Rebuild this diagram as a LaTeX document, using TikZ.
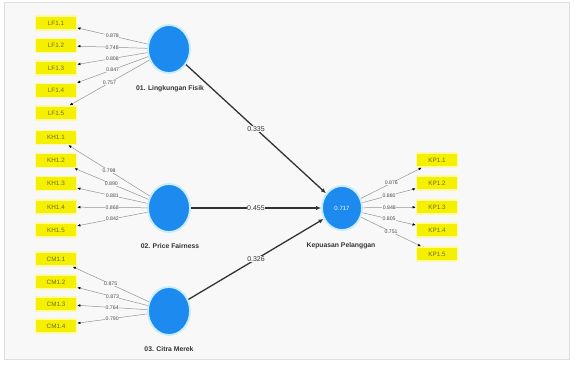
\documentclass[tikz,border=0pt]{standalone}
\usepackage{fontspec}
\setmainfont{Liberation Sans}
\usetikzlibrary{shapes.geometric,arrows.meta}

\definecolor{lvblue}{RGB}{28,138,238}
\definecolor{mvyellow}{RGB}{244,240,0}
\definecolor{panelbg}{RGB}{248,248,248}

\begin{document}
\begin{tikzpicture}[x=1pt,y=-1pt,
    latent/.style={ellipse, fill=lvblue, draw=cyan!22, line width=1.8pt, minimum width=42pt, minimum height=48pt, inner sep=0pt, text=white, font=\fontsize{6}{7}\selectfont},
    manifest/.style={rectangle, fill=mvyellow, draw=yellow!35, line width=1.4pt, minimum width=41pt, minimum height=14pt, inner sep=0pt, text=olive!70!black, font=\fontsize{6.3}{7}\selectfont},
    lvname/.style={font=\fontsize{6.8}{8}\selectfont\bfseries, text=black!80},
    outer/.style={-{Latex[length=3.2pt,width=2.6pt,color=black]}, draw=gray!85, line width=0.5pt},
    inner/.style={-{Latex[length=5pt,width=4.2pt]}, draw=black!80, line width=1.3pt},
    weight/.style={midway, fill=panelbg, inner sep=0.4pt, font=\fontsize{5.2}{6}\selectfont, text=black!70},
    pathcoef/.style={midway, fill=panelbg, inner sep=0.5pt, font=\fontsize{7}{8}\selectfont, text=black!80}]

  \useasboundingbox (0,0) rectangle (581,366);
  \fill[white] (0,0) rectangle (581,366);
  \draw[gray!25, fill=panelbg] (4,2) rectangle (569,359);

  % latent variables
  \node [latent] (lf) at (169,49) {};
  \node [latent] (pf) at (169,208) {};
  \node [latent] (cm) at (169,311) {};
  \node [latent, minimum width=40pt, minimum height=44pt] (kp) at (342,208) {0.717};

  \node [lvname] (lfname) at (170,89) {01. Lingkungan Fisik};
  \node [lvname] (pfname) at (170,246) {02. Price Fairness};
  \node [lvname] (cmname) at (169,349) {03. Citra Merek};
  \node [lvname] (kpname) at (341,246) {Kepuasan Pelanggan};

  % indicators
  \node [manifest] (lf1) at (56,23) {LF1.1};
  \node [manifest] (lf2) at (56,45.5) {LF1.2};
  \node [manifest] (lf3) at (56,68) {LF1.3};
  \node [manifest] (lf4) at (56,90.5) {LF1.4};
  \node [manifest] (lf5) at (56,113) {LF1.5};

  \node [manifest] (kh1) at (56,137.5) {KH1.1};
  \node [manifest] (kh2) at (56,160.5) {KH1.2};
  \node [manifest] (kh3) at (56,183.5) {KH1.3};
  \node [manifest] (kh4) at (56,207) {KH1.4};
  \node [manifest] (kh5) at (56,230) {KH1.5};

  \node [manifest] (cm1) at (56,259) {CM1.1};
  \node [manifest] (cm2) at (56,282) {CM1.2};
  \node [manifest] (cm3) at (56,304) {CM1.3};
  \node [manifest] (cm4) at (56,326) {CM1.4};

  \node [manifest] (kp1) at (437,160) {KP1.1};
  \node [manifest] (kp2) at (437,183) {KP1.2};
  \node [manifest] (kp3) at (437,207) {KP1.3};
  \node [manifest] (kp4) at (437,230) {KP1.4};
  \node [manifest] (kp5) at (437,254) {KP1.5};

  % outer loadings
  \draw [outer] (lf) -- (lf1) node [weight] {0.878};
  \draw [outer] (lf) -- (lf2) node [weight] {0.748};
  \draw [outer] (lf) -- (lf3) node [weight] {0.808};
  \draw [outer] (lf) -- (lf4) node [weight] {0.847};
  \draw [outer] (lf) -- (lf5) node [weight] {0.757};

  \draw [outer] (pf) -- (kh1) node [weight] {0.798};
  \draw [outer] (pf) -- (kh2) node [weight] {0.890};
  \draw [outer] (pf) -- (kh3) node [weight] {0.881};
  \draw [outer] (pf) -- (kh4) node [weight] {0.868};
  \draw [outer] (pf) -- (kh5) node [weight] {0.842};

  \draw [outer] (cm) -- (cm1) node [weight] {0.875};
  \draw [outer] (cm) -- (cm2) node [weight] {0.873};
  \draw [outer] (cm) -- (cm3) node [weight] {0.764};
  \draw [outer] (cm) -- (cm4) node [weight] {0.790};

  \draw [outer] (kp) -- (kp1) node [weight] {0.876};
  \draw [outer] (kp) -- (kp2) node [weight] {0.880};
  \draw [outer] (kp) -- (kp3) node [weight] {0.848};
  \draw [outer] (kp) -- (kp4) node [weight] {0.805};
  \draw [outer] (kp) -- (kp5) node [weight] {0.751};

  % inner model
  \draw [inner] (lf) -- (kp) node [pathcoef] {0.335};
  \draw [inner] (pf) -- (kp) node [pathcoef] {0.455};
  \draw [inner] (cm) -- (kp) node [pathcoef] {0.326};

\end{tikzpicture}
\end{document}
